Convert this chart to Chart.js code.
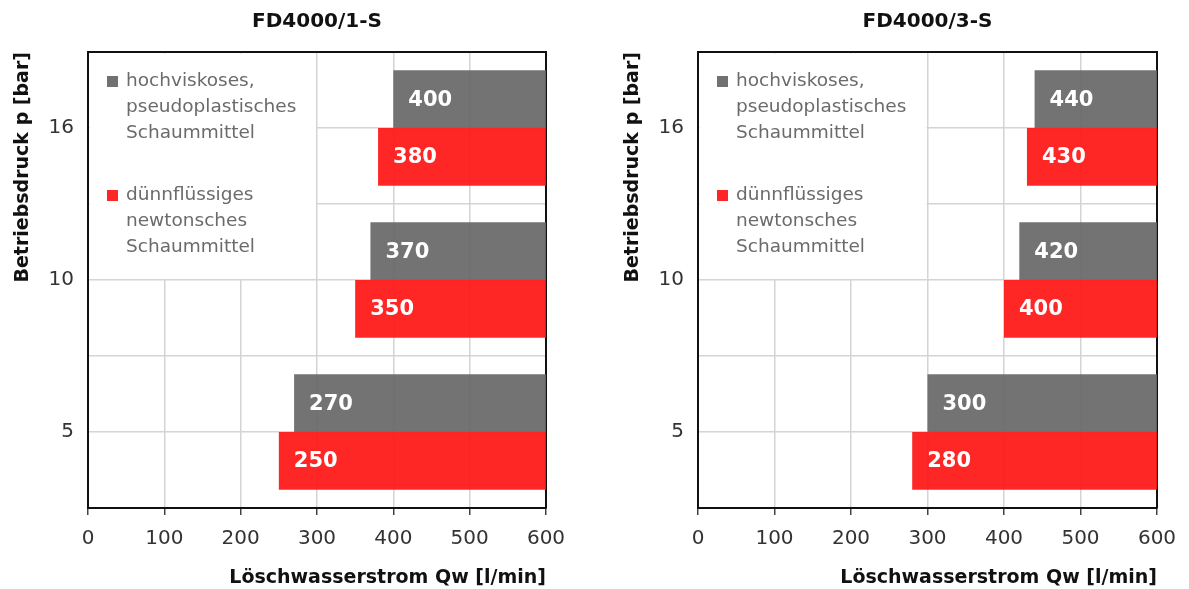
<!DOCTYPE html>
<html lang="de">
<head>
<meta charset="UTF-8">
<title>Löschwasserstrom FD4000</title>
<script src="https://cdn.jsdelivr.net/npm/chart.js"></script>
<style>
  html, body { margin: 0; padding: 0; background: #fff; overflow: hidden; }
  .box { position: absolute; top: 0; height: 589px; }
  #links { left: 0; width: 600px; }
  #rechts { left: 610px; width: 579px; }
</style>
</head>
<body>
<div class="box" id="links"><canvas id="chart1"></canvas></div>
<div class="box" id="rechts"><canvas id="chart2"></canvas></div>
<script>
  // Betriebsdruck (Kategorien) und Löschwasserstrom je Schaummittel
  const druck = ['16', '10', '5'];
  const viskos1 = [400, 370, 270];
  const duenn1 = [380, 350, 250];
  const viskos3 = [440, 420, 300];
  const duenn3 = [430, 400, 280];
  const qMax = 600;
  const qSchritt = 100;
  const legende = [
    ['hochviskoses,', 'pseudoplastisches', 'Schaummittel'],
    ['dünnflüssiges', 'newtonsches', 'Schaummittel']
  ];

  const schrift = '"DejaVu Sans", sans-serif';
  const balkenFarben = ['rgba(103,103,103,0.92)', 'rgba(255,19,19,0.92)'];
  const markerFarben = ['#717171', '#ff2626'];
  const gitter = '#d4d4d4';

  // weisse Legendenbox oben links im Diagramm
  const legendBox = {
    id: 'legendBox',
    beforeDatasetsDraw(chart) {
      const { ctx, chartArea: a, scales } = chart;
      const rechts = scales.x.getPixelForValue(300) - 1;
      const unten = scales.y.getPixelForValue(1) - 1;
      ctx.save();
      ctx.fillStyle = '#fff';
      ctx.fillRect(a.left + 1.5, a.top + 1.5, rechts - a.left - 1.5, unten - a.top - 1.5);
      ctx.font = '18.5px ' + schrift;
      ctx.textBaseline = 'middle';
      legende.forEach((zeilen, i) => {
        const y0 = a.top + 29 + i * 114;
        ctx.fillStyle = markerFarben[i];
        ctx.fillRect(a.left + 19, y0 - 5, 11, 11);
        ctx.fillStyle = '#6b6b6b';
        zeilen.forEach((t, k) => ctx.fillText(t, a.left + 38, y0 + k * 26));
      });
      ctx.restore();
    }
  };

  // Werte weiss in die Balken schreiben
  const wertLabels = {
    id: 'wertLabels',
    afterDatasetsDraw(chart) {
      const ctx = chart.ctx;
      ctx.save();
      ctx.font = 'bold 21px ' + schrift;
      ctx.fillStyle = '#fff';
      ctx.textBaseline = 'middle';
      chart.data.datasets.forEach((ds, i) => {
        chart.getDatasetMeta(i).data.forEach((bar, j) => {
          const links = Math.min(bar.x, bar.base);
          ctx.fillText(String(ds.data[j][0]), links + 15, bar.y + 1);
        });
      });
      ctx.restore();
    }
  };

  function diagramm(id, titel, viskos, duenn, padRechts) {
    return new Chart(document.getElementById(id), {
      type: 'bar',
      data: {
        labels: druck,
        datasets: [
          { label: legende[0].join(' '), data: viskos.map(v => [v, qMax]), backgroundColor: balkenFarben[0] },
          { label: legende[1].join(' '), data: duenn.map(v => [v, qMax]), backgroundColor: balkenFarben[1] }
        ]
      },
      options: {
        indexAxis: 'y',
        responsive: true,
        maintainAspectRatio: false,
        animation: false,
        categoryPercentage: 0.76,
        barPercentage: 1.0,
        layout: { padding: { left: 0, right: padRechts, top: 0, bottom: 0 } },
        plugins: {
          legend: { display: false },
          tooltip: { enabled: false },
          title: {
            display: true,
            text: titel,
            fullSize: false,
            color: '#111',
            font: { family: schrift, size: 20, weight: 'bold' },
            padding: { top: 10, bottom: 18 }
          }
        },
        scales: {
          x: {
            type: 'linear',
            min: 0,
            max: qMax,
            ticks: { stepSize: qSchritt, color: '#333', font: { family: schrift, size: 20 }, padding: 12 },
            grid: { color: gitter, lineWidth: 1.5, tickLength: 7, tickColor: '#444' },
            border: { display: true, color: '#111', width: 2 },
            title: {
              display: true,
              text: 'Löschwasserstrom Qw [l/min]',
              align: 'end',
              color: '#111',
              font: { family: schrift, size: 19, weight: 'bold' },
              padding: { top: 0, bottom: 0 }
            },
            afterFit: s => { s.height = 81; }
          },
          x2: {
            type: 'linear',
            position: 'top',
            min: 0,
            max: qMax,
            ticks: { display: false },
            grid: { display: false },
            border: { display: true, color: '#111', width: 2 },
            afterFit: s => { s.height = 0; }
          },
          y: {
            type: 'category',
            offset: true,
            ticks: { color: '#333', font: { family: schrift, size: 20 }, padding: 14 },
            grid: { offset: false, color: gitter, lineWidth: 1.5, drawTicks: false },
            border: { display: true, color: '#111', width: 2 },
            title: {
              display: true,
              text: 'Betriebsdruck p [bar]',
              align: 'end',
              color: '#111',
              font: { family: schrift, size: 19, weight: 'bold' },
              padding: { top: 12, bottom: 0 }
            },
            afterFit: s => { s.width = 88; }
          },
          y2: {
            type: 'category',
            position: 'right',
            offset: true,
            z: 1,
            ticks: { display: false },
            grid: { offset: true, color: gitter, lineWidth: 1.5, drawTicks: false },
            border: { display: true, color: '#111', width: 2 },
            afterFit: s => { s.width = 0; }
          }
        }
      },
      plugins: [legendBox, wertLabels]
    });
  }

  diagramm('chart1', 'FD4000/1-S', viskos1, duenn1, 54);
  diagramm('chart2', 'FD4000/3-S', viskos3, duenn3, 32);
</script>
</body>
</html>
